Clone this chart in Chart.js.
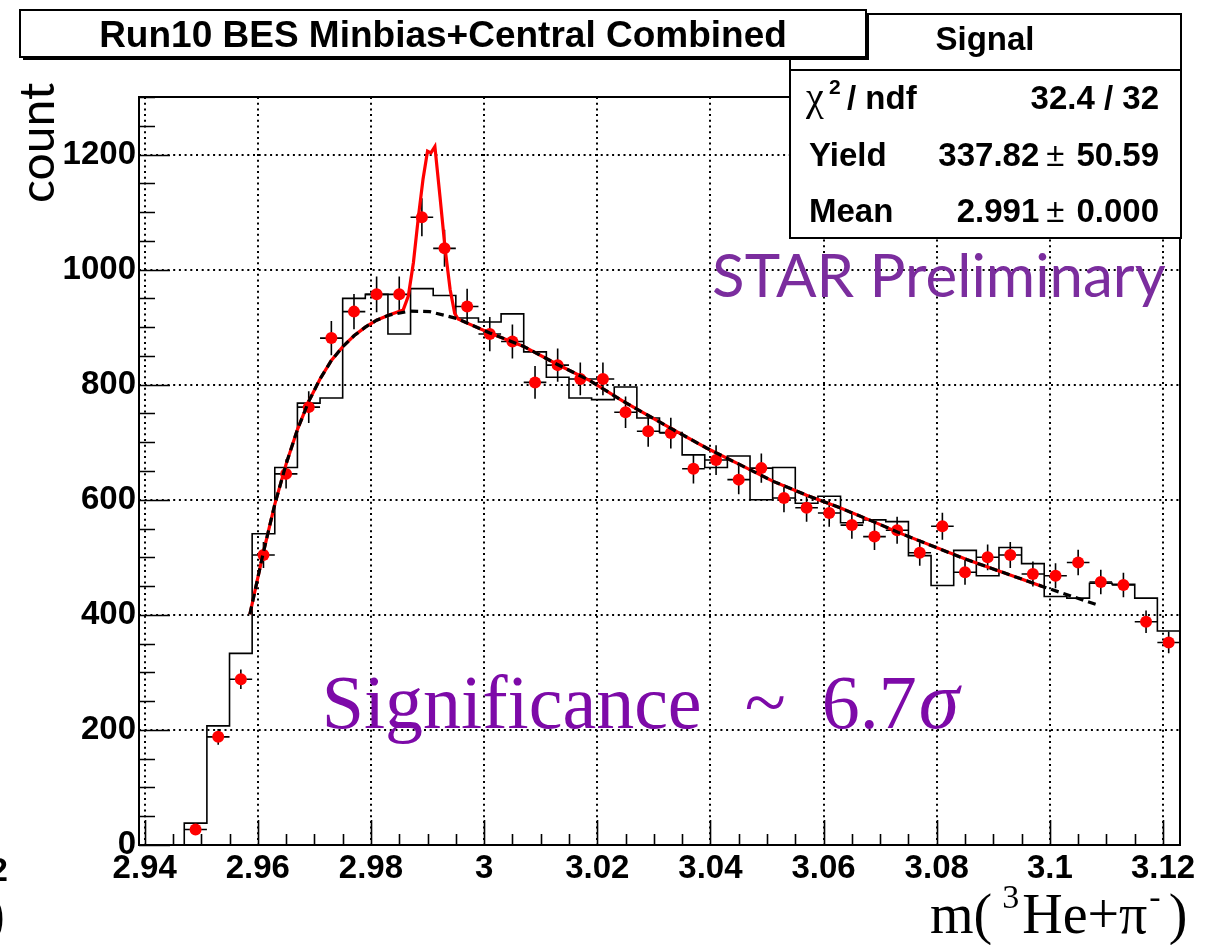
<!DOCTYPE html>
<html>
<head>
<meta charset="utf-8">
<script src="https://cdn.jsdelivr.net/npm/chart.js@4.4.1/dist/chart.umd.min.js"></script>
<style>
  html, body { margin: 0; padding: 0; background: #fff; }
</style>
</head>
<body>
<canvas id="c" width="1224" height="945"></canvas>
<script>
// 46 bins of 4 MeV starting at 2.939 GeV
var binLow = 2.939;
var binWidth = 0.004;

// outline histogram, one entry per bin
var histCounts = [0, 0, 38, 207, 333, 541, 656, 768, 777, 950, 957, 888, 967, 955, 916, 909,
    923, 857, 813, 777, 774, 796, 742, 717, 678, 656, 676, 600, 656, 594, 606, 560, 565, 562,
    503, 451, 512, 468, 517, 489, 432, 429, 455, 453, 429, 372];

// filled points start at the third bin
var firstPointBin = 2;
var pointCounts = [27, 188, 288, 504, 645, 761, 881, 927, 957, 957, 1091, 1037, 936, 888, 875,
    804, 834, 810, 810, 752, 719, 716, 654, 669, 635, 655, 603, 586, 577, 556, 536, 547, 508,
    554, 474, 500, 504, 471, 468, 491, 457, 452, 388, 352];

// background function (dashed)
var bgMass = [2.9586, 2.9609, 2.9630, 2.9650, 2.9670, 2.9690, 2.9710, 2.9730, 2.9750, 2.9770,
    2.9790, 2.9810, 2.9832, 2.9869, 2.9904, 2.9952, 3.0010, 3.0069, 3.0128, 3.0187, 3.0246,
    3.0334, 3.0393, 3.0452, 3.0511, 3.0570, 3.0629, 3.0688, 3.0735, 3.0853, 3.0988, 3.1088];
var bgCount = [401, 505, 592, 662, 722, 771, 810, 842, 866, 885, 900, 912, 921, 928, 927, 915,
    890, 867, 836, 807, 771, 722, 690, 661, 632, 608, 586, 562, 542, 496, 449, 416];

// signal + background around the peak (solid red)
var peakMass = [2.9857, 2.9866, 2.9875, 2.9884, 2.9892, 2.9900, 2.9906, 2.9913, 2.9922, 2.9931,
    2.9940, 2.9948, 2.9954];
var peakCount = [930, 954, 1012, 1093, 1157, 1206, 1203, 1214, 1127, 1037, 965, 924, 914];
var fitEnd = 3.0988;

var xTicks = [2.94, 2.96, 2.98, 3.00, 3.02, 3.04, 3.06, 3.08, 3.10, 3.12];
var yTicks = [0, 200, 400, 600, 800, 1000, 1200];

var histPts = histCounts.map(function(v, i) {
    return { x: binLow + i * binWidth, y: v };
});
histPts.push({ x: binLow + histCounts.length * binWidth, y: histCounts[histCounts.length - 1] });

var dataPts = pointCounts.map(function(v, i) {
    return { x: binLow + (firstPointBin + i + 0.5) * binWidth, y: v };
});

var bgPts = bgMass.map(function(m, i) { return { x: m, y: bgCount[i] }; });

var fitPts = [];
bgPts.forEach(function(p) { if (p.x < peakMass[0]) fitPts.push(p); });
peakMass.forEach(function(m, i) { fitPts.push({ x: m, y: peakCount[i] }); });
bgPts.forEach(function(p) {
    if (p.x > peakMass[peakMass.length - 1] && p.x <= fitEnd) fitPts.push(p);
});

var boldFont = '"Liberation Sans", Arial, sans-serif';
var serifFont = '"Liberation Serif", "Times New Roman", serif';

var rootStyle = {
    id: 'rootStyle',
    beforeDatasetsDraw: function(chart) {
        var ctx = chart.ctx, a = chart.chartArea;
        var xs = chart.scales.x, ys = chart.scales.y;
        ctx.save();
        ctx.strokeStyle = '#000';
        ctx.lineWidth = 2;
        ctx.setLineDash([2, 3.7]);
        ctx.beginPath();
        xTicks.forEach(function(v) {
            var px = Math.round(xs.getPixelForValue(v));
            ctx.moveTo(px, a.top); ctx.lineTo(px, a.bottom);
        });
        yTicks.forEach(function(v) {
            var py = Math.round(ys.getPixelForValue(v));
            ctx.moveTo(a.left, py); ctx.lineTo(a.right, py);
        });
        ctx.stroke();
        ctx.restore();
    },
    beforeDatasetDraw: function(chart, args) {
        if (args.index !== 1) return;
        var ctx = chart.ctx, xs = chart.scales.x, ys = chart.scales.y;
        ctx.save();
        ctx.strokeStyle = '#000';
        ctx.lineWidth = 1.6;
        ctx.beginPath();
        dataPts.forEach(function(p) {
            var err = Math.sqrt(p.y);
            var px = xs.getPixelForValue(p.x), py = ys.getPixelForValue(p.y);
            ctx.moveTo(px, ys.getPixelForValue(p.y - err));
            ctx.lineTo(px, ys.getPixelForValue(p.y + err));
            ctx.moveTo(xs.getPixelForValue(p.x - binWidth / 2), py);
            ctx.lineTo(xs.getPixelForValue(p.x + binWidth / 2), py);
        });
        ctx.stroke();
        ctx.restore();
    },
    afterDraw: function(chart) {
        var ctx = chart.ctx, a = chart.chartArea;
        var xs = chart.scales.x, ys = chart.scales.y;
        ctx.save();

        // tick marks inside the frame
        ctx.strokeStyle = '#000';
        ctx.lineWidth = 1.6;
        ctx.beginPath();
        for (var k = 0; k * 50 <= 1300; k++) {
            var py = Math.round(ys.getPixelForValue(k * 50)) + 0.5;
            ctx.moveTo(a.left, py);
            ctx.lineTo(a.left + (k % 4 === 0 ? 31 : 16), py);
        }
        for (var j = 0; 2.94 + j * 0.005 <= 3.123; j++) {
            var px = Math.round(xs.getPixelForValue(2.94 + j * 0.005)) + 0.5;
            ctx.moveTo(px, a.bottom);
            ctx.lineTo(px, a.bottom - (j % 4 === 0 ? 25 : 11));
        }
        ctx.stroke();

        // frame
        ctx.lineWidth = 2;
        ctx.strokeRect(a.left, a.top, a.right - a.left, a.bottom - a.top);

        // axis titles
        ctx.fillStyle = '#000';
        ctx.save();
        ctx.translate(54, 203);
        ctx.rotate(-Math.PI / 2);
        ctx.font = '48px Lato, "Open Sans", sans-serif';
        ctx.textAlign = 'left';
        ctx.textBaseline = 'alphabetic';
        ctx.fillText('count', 0, 0);
        ctx.restore();

        var tx = 930, ty = 933;
        ctx.textAlign = 'left';
        ctx.textBaseline = 'alphabetic';
        ctx.font = '56px ' + serifFont;
        ctx.fillText('m(', tx, ty);
        tx += ctx.measureText('m(').width + 10;
        ctx.font = '34px ' + serifFont;
        ctx.fillText('3', tx, ty - 25);
        tx += ctx.measureText('3').width + 3;
        ctx.font = '56px ' + serifFont;
        ctx.fillText('He+\u03c0', tx, ty);
        tx += ctx.measureText('He+\u03c0').width + 2;
        ctx.font = '34px ' + serifFont;
        ctx.fillText('-', tx, ty - 25);
        tx += ctx.measureText('-').width + 8;
        ctx.font = '56px ' + serifFont;
        ctx.fillText(')', tx, ty);

        // pieces of the neighbouring pad at the left edge
        ctx.textAlign = 'right';
        ctx.font = 'bold 34px ' + boldFont;
        ctx.fillText('3.12', 8, 881);
        ctx.font = '56px ' + serifFont;
        ctx.fillText(')', 5, 933);

        // STAR Preliminary
        ctx.textAlign = 'left';
        ctx.fillStyle = '#7b2d9e';
        ctx.font = '60px Lato, "Open Sans", sans-serif';
        ctx.fillText('STAR Preliminary', xs.getPixelForValue(3.0403), ys.getPixelForValue(953));

        // significance
        ctx.fillStyle = '#7d0aa8';
        var sx = xs.getPixelForValue(2.9713), sy = ys.getPixelForValue(203);
        ctx.font = '76px ' + serifFont;
        ctx.fillText('Significance', sx, sy);
        ctx.fillText('~', sx + 423, sy);
        ctx.fillText('6.7', sx + 500, sy);
        var w67 = ctx.measureText('6.7').width;
        ctx.font = 'italic 82px ' + serifFont;
        ctx.fillText('\u03c3', sx + 500 + w67 + 2, sy);

        // stats box
        ctx.fillStyle = '#fff';
        ctx.fillRect(790, 14, 391, 224);
        ctx.strokeStyle = '#000';
        ctx.lineWidth = 2;
        ctx.strokeRect(790, 14, 391, 224);
        ctx.beginPath();
        ctx.moveTo(790, 70); ctx.lineTo(1181, 70);
        ctx.stroke();

        ctx.fillStyle = '#000';
        ctx.textAlign = 'center';
        ctx.font = 'bold 33px ' + boldFont;
        ctx.fillText('Signal', 985, 50);

        var right = 1159;
        ctx.textAlign = 'left';
        ctx.font = '40px ' + serifFont;
        ctx.fillText('\u03c7', 806, 110);
        ctx.font = 'bold 21px ' + boldFont;
        ctx.fillText('2', 829, 94);
        ctx.font = 'bold 33px ' + boldFont;
        ctx.fillText('/ ndf', 847, 109);
        ctx.fillText('Yield', 809, 166);
        ctx.fillText('Mean', 809, 222);
        ctx.textAlign = 'right';
        ctx.fillText('32.4 / 32', right, 109);

        function pmRow(val, err, y) {
            ctx.textAlign = 'right';
            ctx.font = 'bold 33px ' + boldFont;
            ctx.fillText(err, right, y);
            var x = right - ctx.measureText(err).width - 12;
            ctx.font = '33px ' + boldFont;
            ctx.fillText('\u00b1', x, y);
            x -= ctx.measureText('\u00b1').width + 7;
            ctx.font = 'bold 33px ' + boldFont;
            ctx.fillText(val, x, y);
        }
        pmRow('337.82', '50.59', 166);
        pmRow('2.991', '0.000', 222);

        // title pave with shadow
        ctx.fillStyle = '#000';
        ctx.fillRect(23, 13, 846, 47);
        ctx.fillStyle = '#fff';
        ctx.fillRect(20, 10, 846, 47);
        ctx.lineWidth = 2;
        ctx.strokeRect(20, 10, 846, 47);
        ctx.fillStyle = '#000';
        ctx.textAlign = 'center';
        ctx.font = 'bold 37px ' + boldFont;
        ctx.fillText('Run10 BES Minbias+Central Combined', 443, 47);

        ctx.restore();
    }
};

var tickFont = { family: boldFont, size: 33, weight: 'bold' };

new Chart(document.getElementById('c').getContext('2d'), {
    type: 'scatter',
    data: {
        datasets: [
            { label: 'hist', type: 'line', data: histPts, stepped: 'before', borderColor: '#000',
              borderWidth: 1.6, pointRadius: 0, fill: false, order: 4 },
            { label: 'data', data: dataPts, pointRadius: 6, pointHoverRadius: 6,
              backgroundColor: '#ff0000', borderWidth: 0, order: 3 },
            { label: 'fit', type: 'line', data: fitPts, borderColor: '#ff0000', borderWidth: 3.2,
              pointRadius: 0, tension: 0, fill: false, order: 2 },
            { label: 'background', type: 'line', data: bgPts, borderColor: '#000', borderWidth: 3.2,
              borderDash: [8, 5], pointRadius: 0, tension: 0, fill: false, order: 1 }
        ]
    },
    options: {
        responsive: false,
        animation: false,
        events: [],
        layout: { padding: { left: 0, top: 97, right: 44, bottom: 0 } },
        plugins: { legend: { display: false }, tooltip: { enabled: false } },
        scales: {
            x: {
                type: 'linear', min: 2.939, max: 3.123,
                afterBuildTicks: function(s) { s.ticks = xTicks.map(function(v) { return { value: v }; }); },
                afterFit: function(s) { s.height = 100; },
                grid: { display: false, drawTicks: false },
                border: { display: false },
                ticks: {
                    color: '#000', font: tickFont, padding: 4, maxRotation: 0, autoSkip: false,
                    callback: function(v) { return String(+v.toFixed(2)); }
                }
            },
            y: {
                type: 'linear', min: 0, max: 1300,
                afterBuildTicks: function(s) { s.ticks = yTicks.map(function(v) { return { value: v }; }); },
                afterFit: function(s) { s.width = 139; },
                grid: { display: false, drawTicks: false },
                border: { display: false },
                ticks: {
                    color: '#000', font: tickFont, padding: 3,
                    callback: function(v) { return String(v); }
                }
            }
        }
    },
    plugins: [rootStyle]
});
</script>
</body>
</html>
